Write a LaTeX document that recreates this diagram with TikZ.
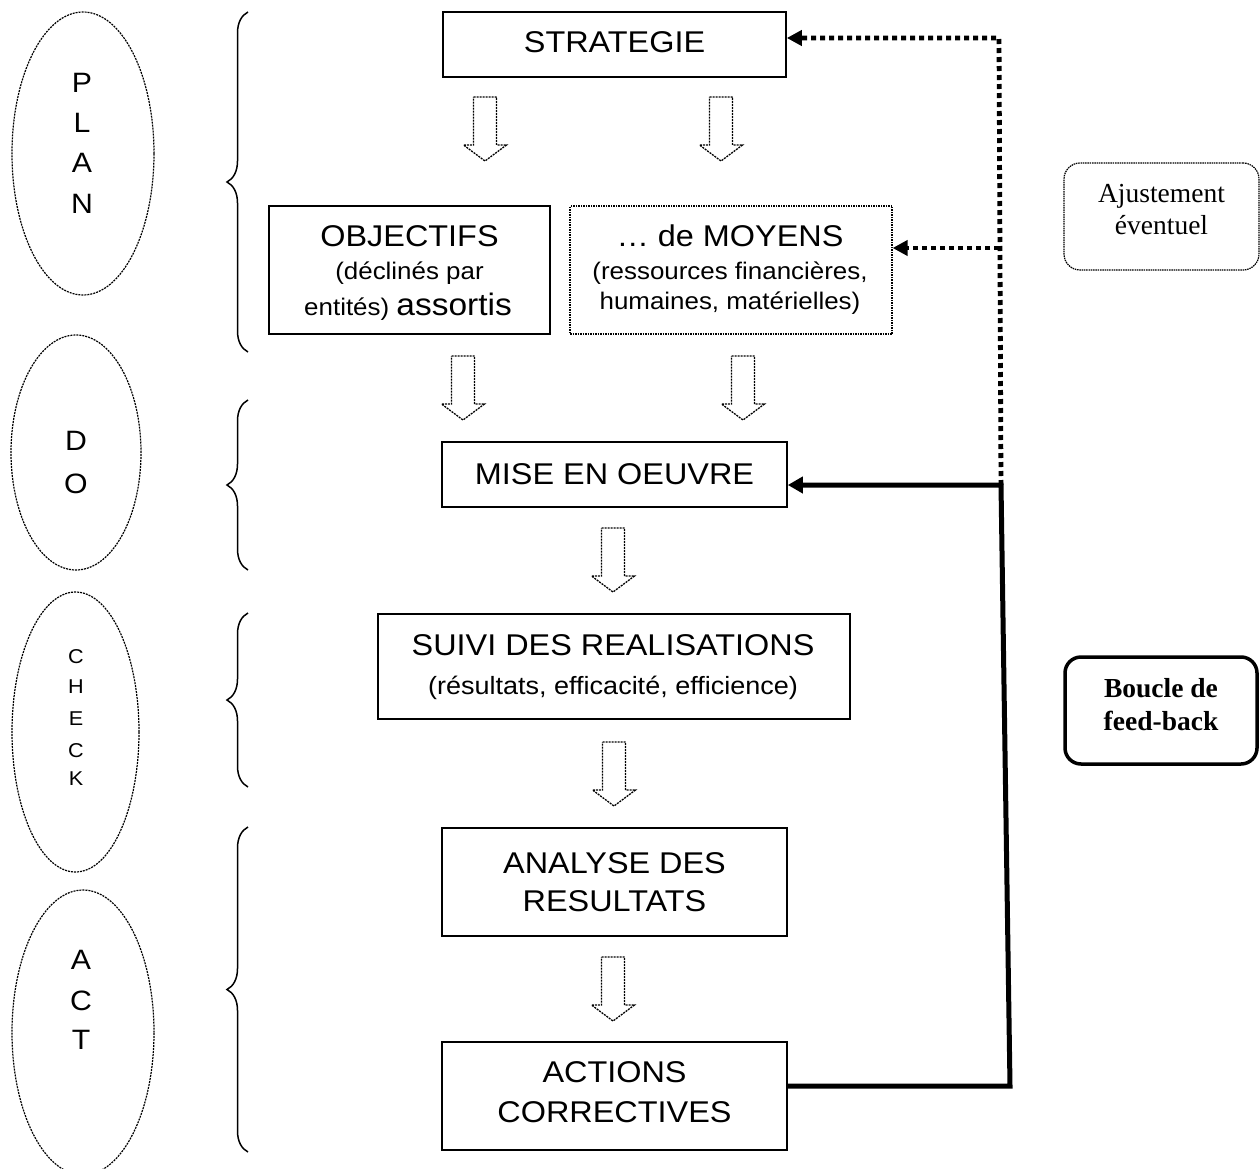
\documentclass[tikz,border=0pt]{standalone}
\usepackage{fontspec}
\setmainfont{Liberation Sans}[FakeStretch=1.08]
\newfontfamily\tnr{Liberation Serif}
\usetikzlibrary{arrows.meta,decorations.pathreplacing,shapes.geometric}
\tikzset{
  box/.style={draw, line width=1.6pt, inner sep=0pt},
  dbox/.style={draw, line width=1.2pt, dash pattern=on 1.5pt off 1pt, inner sep=0pt},
  oval/.style={draw, ellipse, line width=1.2pt, dash pattern=on 2pt off 1pt, inner sep=0pt},
  txt/.style={anchor=base, inner sep=0pt, outer sep=0pt},
  big/.style={txt, font=\fontsize{30}{36}\selectfont},
  sub/.style={txt, font=\fontsize{24}{29}\selectfont},
  letter/.style={txt, font=\fontsize{28}{34}\selectfont},
  sletter/.style={txt, font=\fontsize{20}{24}\selectfont},
  serif/.style={txt, font=\tnr\fontsize{27.5}{32}\selectfont},
  sbold/.style={txt, font=\tnr\bfseries\fontsize{27.5}{32}\selectfont},
  brc/.style={decorate, decoration={brace, amplitude=21pt}, line width=1.5pt},
  barstyle/.style={line width=1.3pt, dash pattern=on 2pt off 1pt},
  blockarr/.pic={\draw[barstyle] (-11.5,0) -- (11.5,0) -- (11.5,48) -- (21.5,48) -- (0,64) -- (-21.5,48) -- (-11.5,48) -- cycle;},
  fbdot/.style={line width=4.8pt, dash pattern=on 5pt off 4pt, -{Triangle[length=15pt,width=15pt]}},
  fbsolid/.style={line width=5pt, -{Triangle[length=15pt,width=16pt]}},
}
\begin{document}
\begin{tikzpicture}[x=1pt,y=-1pt]
\useasboundingbox (0,0) rectangle (1260,1169);

% ellipses
\node[oval, minimum width=142pt, minimum height=283pt] (ePlan) at (83,153.5) {};
\node[oval, minimum width=130pt, minimum height=235pt] (eDo) at (76,452.5) {};
\node[oval, minimum width=127pt, minimum height=280pt] (eCheck) at (75.5,732) {};
\node[oval, minimum width=142pt, minimum height=285pt] (eAct) at (83,1032.5) {};

\node[letter] (lP) at (82,93) {P};
\node[letter] (lL) at (82,133) {L};
\node[letter] (lA) at (82,173) {A};
\node[letter] (lN) at (82,213) {N};
\node[letter] (lD) at (76,450) {D};
\node[letter] (lO) at (76,493) {O};
\node[sletter] (lC1) at (76,663) {C};
\node[sletter] (lH) at (76,693) {H};
\node[sletter] (lE) at (76,725) {E};
\node[sletter] (lC2) at (76,757) {C};
\node[sletter] (lK) at (76,785) {K};
\node[letter] (lA2) at (81,969) {A};
\node[letter] (lC3) at (81,1010) {C};
\node[letter] (lT) at (81,1049) {T};

% braces
\draw[brc] (248,352) -- (248,12);
\draw[brc] (248,570) -- (248,400);
\draw[brc] (248,787) -- (248,613);
\draw[brc] (248,1152) -- (248,827);

% boxes
\node[box, minimum width=343pt, minimum height=65pt] (strat) at (614.5,44.5) {};
\node[big] (tStrat) at (614.5,53) {STRATEGIE};

\node[box, minimum width=281pt, minimum height=128pt] (obj) at (409.5,270) {};
\node[big] (tObj1) at (409.5,246) {OBJECTIFS};
\node[sub] (tObj2) at (409.5,279) {(déclinés par};
\node[sub] (tObj3) at (408,315) {entités) {\fontsize{31}{36}\selectfont assortis}};

\node[dbox, minimum width=322pt, minimum height=128pt] (moy) at (731,270) {};
\node[big] (tMoy1) at (730,246) {\dots\ de MOYENS};
\node[sub] (tMoy2) at (730,279) {(ressources financières,};
\node[sub] (tMoy3) at (730,309) {humaines, matérielles)};

\node[box, minimum width=345pt, minimum height=65pt] (mise) at (614.5,474.5) {};
\node[big] (tMise) at (614.5,484) {MISE EN OEUVRE};

\node[box, minimum width=472pt, minimum height=105pt] (suivi) at (614,666.5) {};
\node[big] (tSuivi1) at (613,655) {SUIVI DES REALISATIONS};
\node[sub, font=\fontsize{25}{30}\selectfont] (tSuivi2) at (613,694) {(résultats, efficacité, efficience)};

\node[box, minimum width=345pt, minimum height=108pt] (analyse) at (614.5,882) {};
\node[big] (tAn1) at (614.5,873) {ANALYSE DES};
\node[big] (tAn2) at (614.5,911) {RESULTATS};

\node[box, minimum width=345pt, minimum height=108pt] (actions) at (614.5,1096) {};
\node[big] (tAc1) at (614.5,1082) {ACTIONS};
\node[big] (tAc2) at (614.5,1122) {CORRECTIVES};

% block arrows
\pic at (485,97) {blockarr};
\pic at (721,97) {blockarr};
\pic at (463,356) {blockarr};
\pic at (743,356) {blockarr};
\pic at (613,528) {blockarr};
\pic at (614,742) {blockarr};
\pic at (613,957) {blockarr};

% right labels
\node[draw, line width=1.2pt, dash pattern=on 1.5pt off 0.8pt, rounded corners=16pt, minimum width=195pt, minimum height=107pt] (ajust) at (1161.5,216.5) {};
\node[serif] (tAj1) at (1161.5,203) {Ajustement};
\node[serif] (tAj2) at (1161.5,234) {éventuel};

\node[draw, line width=3.5pt, rounded corners=16pt, minimum width=192pt, minimum height=107pt] (boucle) at (1161,710.5) {};
\node[sbold] (tB1) at (1161,697) {Boucle de};
\node[sbold] (tB2) at (1161,730) {feed-back};

% feedback connectors
\coordinate (c1) at (999,38);
\coordinate (c2) at (999,248);
\coordinate (c3) at (1001,485);
\coordinate (c4) at (1010,1086);
\draw[fbdot] (c3) -- (c1) -- (strat.east |- c1);
\draw[fbdot] (c2) -- (moy.east |- c2);
\draw[fbsolid] (actions.east |- c4) -- (c4) -- (c3) -- (mise.east |- c3);
\end{tikzpicture}
\end{document}
